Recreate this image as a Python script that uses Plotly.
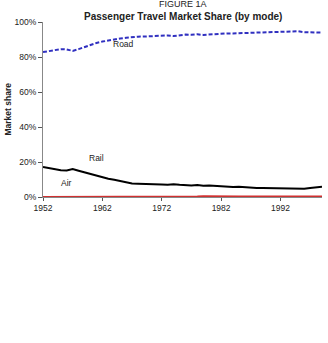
import plotly.graph_objects as go

years = list(range(1952, 2000))

road = [82.8, 83.3, 84.0, 84.5, 84.3, 83.5, 84.5, 85.8, 87.0, 88.0,
        88.8, 89.5, 90.0, 90.6, 91.0, 91.4, 91.6, 91.7, 91.8, 92.0,
        92.3, 92.3, 92.0, 92.4, 92.8, 92.7, 93.0, 92.6, 92.8, 93.2,
        93.6, 93.5, 93.5, 93.6, 93.8, 94.0, 94.1, 94.2, 94.4, 94.4,
        94.6, 94.7, 94.9, 94.7, 94.2, 94.0, 93.9, 93.9]

rail = [17.2, 16.6, 16.0, 15.3, 15.2, 16.0, 15.0, 14.0, 13.2, 12.0,
        11.0, 10.4, 9.8, 9.2, 8.3, 7.7, 7.6, 7.6, 7.6, 7.6,
        7.2, 7.0, 7.3, 7.0, 6.6, 6.6, 6.8, 6.4, 6.6, 6.3,
        5.9, 5.7, 5.7, 5.8, 5.5, 5.3, 5.2, 5.1, 5.0, 4.9,
        4.8, 4.7, 4.5, 4.4, 4.7, 5.2, 5.6, 5.8]

air = [0.1, 0.1, 0.1, 0.2, 0.5, 0.5, 0.3, 0.2, 0.2, 0.2,
       0.2, 0.2, 0.2, 0.2, 0.2, 0.2, 0.2, 0.2, 0.2, 0.2,
       0.2, 0.2, 0.3, 0.3, 0.3, 0.4, 0.5, 0.6, 0.5, 0.4,
       0.3, 0.3, 0.4, 0.4, 0.4, 0.4, 0.4, 0.4, 0.4, 0.4,
       0.4, 0.4, 0.4, 0.4, 0.4, 0.4, 0.4, 0.4]

tick_years = [1952, 1962, 1972, 1982, 1992]
tick_pcts = [0, 20, 40, 60, 80, 100]
tick_pct_labels = ["0%", "20%", "40%", "60%", "80%", "100%"]

FONT = "Liberation Sans, Arial, sans-serif"
TXT = "#222222"

fig = go.Figure()
fig.add_trace(go.Scatter(x=years, y=air, mode="lines",
                         line=dict(color="#d03030", width=1.5), name="Air"))
fig.add_trace(go.Scatter(x=years, y=rail, mode="lines",
                         line=dict(color="#000000", width=2), name="Rail"))
fig.add_trace(go.Scatter(x=years, y=road, mode="lines",
                         line=dict(color="#3030c0", width=2, dash="4px,2px"), name="Road"))

fig.update_layout(
    width=328, height=343,
    margin=dict(l=43, r=6, t=22, b=146),
    paper_bgcolor="white", plot_bgcolor="white",
    showlegend=False,
    font=dict(family=FONT, size=8, color=TXT),
    xaxis=dict(range=[1952, 1999], tickvals=tick_years, ticktext=[str(y) for y in tick_years],
               showgrid=False, zeroline=False, showline=True, linecolor="#888", linewidth=1,
               ticks="outside", ticklen=3, tickcolor="#555",
               tickfont=dict(family=FONT, size=8.5, color=TXT)),
    yaxis=dict(range=[0, 100], tickvals=tick_pcts, ticktext=tick_pct_labels,
               showgrid=False, zeroline=False, showline=True, linecolor="#888", linewidth=1,
               ticks="outside", ticklen=4, tickcolor="#555",
               tickfont=dict(family=FONT, size=8.5, color=TXT)),
    annotations=[
        dict(text="FIGURE 1A", xref="paper", yref="paper", x=0.502, y=1.103,
             xanchor="center", yanchor="middle",
             showarrow=False, font=dict(family=FONT, size=9, color=TXT)),
        dict(text="<b>Passenger Travel Market Share (by mode)</b>", xref="paper", yref="paper",
             x=0.502, y=1.034, xanchor="center", yanchor="middle",
             showarrow=False, font=dict(family=FONT, size=10, color=TXT)),
        dict(text="<b>Market share</b>", xref="paper", yref="paper", x=-0.129, y=0.5,
             xanchor="center", yanchor="middle",
             textangle=-90, showarrow=False, font=dict(family=FONT, size=8.5, color=TXT)),
        dict(text="Road", x=1965.6, y=87.4, showarrow=False,
             font=dict(family=FONT, size=8.5, color=TXT)),
        dict(text="Rail", x=1961, y=22.3, showarrow=False,
             font=dict(family=FONT, size=8.5, color=TXT)),
        dict(text="Air", x=1955.9, y=8, showarrow=False,
             font=dict(family=FONT, size=8.5, color=TXT)),
    ],
)

fig.write_html("out.html")
